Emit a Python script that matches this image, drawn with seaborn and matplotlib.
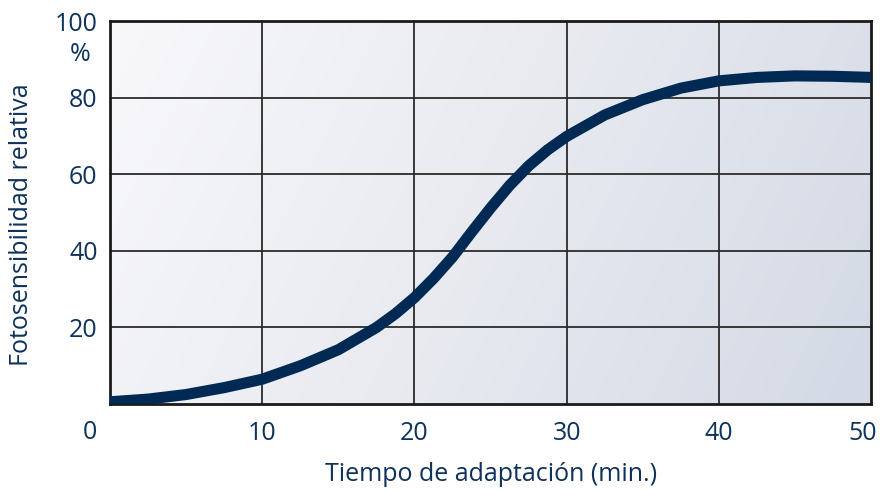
import matplotlib
matplotlib.use("Agg")
import matplotlib.pyplot as plt
import matplotlib.transforms as mtransforms
import numpy as np
import pandas as pd
import seaborn as sns

# values
minutes = [0, 2.5, 5, 7.5, 10, 12.5, 15, 17.5, 18.75, 20, 21.25, 22.5, 23.75, 25, 26.25, 27.5,
           28.75, 30, 32.5, 35, 37.5, 40, 42.5, 45, 47.5, 50]
sensitivity = [0.6, 1.3, 2.5, 4.3, 6.5, 10.0, 14.2, 20.0, 23.6, 27.8, 32.8, 38.4, 44.9, 51.2, 57.1, 62.2,
               66.4, 69.9, 75.5, 79.5, 82.5, 84.4, 85.3, 85.7, 85.6, 85.3]
x_ticks = [10, 20, 30, 40, 50]
y_ticks = [20, 40, 60, 80, 100]

TEXT = "#0e325c"
LINE = "#002a54"
FONT = 18

sns.set_style("white")
plt.rcParams["font.family"] = ["Open Sans", "DejaVu Sans"]

df = pd.DataFrame({"Tiempo": minutes, "Fotosensibilidad": sensitivity})

fig = plt.figure(figsize=(8.8, 4.91), dpi=100)
ax = fig.add_axes([0.125, 0.177, 0.865, 0.780])

# gradient background, light at top-left, darker blue-grey at bottom-right
gx, gy = np.meshgrid(np.linspace(0, 1, 200), np.linspace(0, 1, 100))
grad = gx * 0.8 + gy * 0.2
cmap = matplotlib.colors.LinearSegmentedColormap.from_list("bg", ["#f8f8fb", "#e8eaf0", "#d3d9e5"])
ax.imshow(grad, extent=[0, 50, 0, 100], origin="upper", cmap=cmap, aspect="auto", zorder=0)

for v in x_ticks[:-1]:
    ax.axvline(v, color="#2b2b2b", lw=1.3, zorder=1)
for v in y_ticks[:-1]:
    ax.axhline(v, color="#2b2b2b", lw=1.3, zorder=1)

sns.lineplot(data=df, x="Tiempo", y="Fotosensibilidad", ax=ax, color=LINE, lw=8,
             solid_capstyle="butt", solid_joinstyle="round", zorder=3)

ax.set_xlim(0, 50)
ax.set_ylim(0, 100)
ax.set_xticks(x_ticks)
ax.set_yticks(y_ticks)
ax.tick_params(axis="both", length=0, labelsize=FONT, colors=TEXT)
ax.tick_params(axis="x", pad=12)
ax.tick_params(axis="y", pad=9)
ax.set_xlabel("Tiempo de adaptación (min.)", fontsize=FONT, color=TEXT, labelpad=12)
ax.set_ylabel("")
for s in ax.spines.values():
    s.set_color("#1a1a1a")
    s.set_linewidth(2)

# last x label sits a little inside the figure edge
last = ax.get_xticklabels()[-1]
last.set_transform(last.get_transform() + mtransforms.ScaledTranslation(-0.09, 0, fig.dpi_scale_trans))

fig.text(0.102, 0.120, "0", fontsize=FONT, color=TEXT, ha="center", va="center")
fig.text(0.091, 0.888, "%", fontsize=FONT, color=TEXT, ha="center", va="center")
fig.text(0.025, 0.542, "Fotosensibilidad relativa", fontsize=FONT, color=TEXT,
         rotation=90, ha="center", va="center")

fig.savefig("out.png", dpi=100)
